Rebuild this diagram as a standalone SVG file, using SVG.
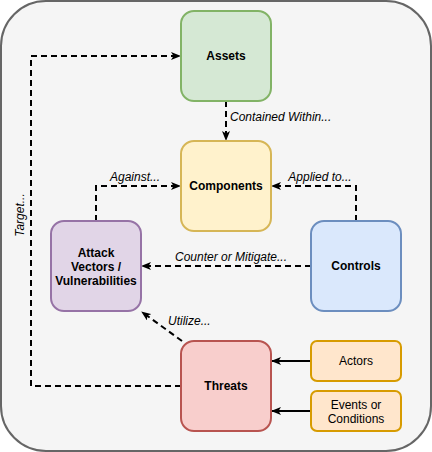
<svg xmlns="http://www.w3.org/2000/svg" width="432" height="452" viewBox="0 0 432 452">
<style>
.node{stroke-width:2}
.t{font-family:"Liberation Sans",Arial,sans-serif;font-size:12px;text-anchor:middle;fill:#000}
.b{font-weight:bold}
.lbl{font-family:"Liberation Sans",Arial,sans-serif;font-size:12px;font-style:italic;fill:#000}
.dash{fill:none;stroke:#000;stroke-width:2;stroke-dasharray:6 4}
.solid{fill:none;stroke:#000;stroke-width:2}
</style>
<defs>
<marker id="arr" viewBox="0 0 10 8" refX="9" refY="4" markerWidth="10" markerHeight="8" markerUnits="userSpaceOnUse" orient="auto">
<path d="M0,0 L10,4 L0,8 L2.5,4 Z" fill="#000"/>
</marker>
</defs>
<g id="container"><rect x="1" y="1" width="430" height="450" rx="45" fill="#f5f5f5" stroke="#666666" stroke-width="2"/></g>
<g id="connectors">
<path class="dash" d="M181,386 H31 V56 H180" marker-end="url(#arr)"/>
<path class="dash" d="M226,101 V140" marker-end="url(#arr)"/>
<path class="dash" d="M96,221 V186 H180" marker-end="url(#arr)"/>
<path class="dash" d="M356,221 V186 H272" marker-end="url(#arr)"/>
<path class="dash" d="M311,266 H142" marker-end="url(#arr)"/>
<path class="dash" d="M182,341 L142,312" marker-end="url(#arr)"/>
<path class="solid" d="M311,361 H272" marker-end="url(#arr)"/>
<path class="solid" d="M311,411 H272" marker-end="url(#arr)"/>
<text class="lbl" x="20" y="215" text-anchor="middle" transform="rotate(-90 20 215)" dy="4">Target...</text>
<text class="lbl" x="230" y="121">Contained Within...</text>
<text class="lbl" x="135" y="181" text-anchor="middle">Against...</text>
<text class="lbl" x="320" y="181" text-anchor="middle">Applied to...</text>
<text class="lbl" x="231" y="261" text-anchor="middle">Counter or Mitigate...</text>
<text class="lbl" x="168" y="325">Utilize...</text>
</g>
<g id="assets"><rect class="node" x="181" y="11" width="90" height="90" rx="13" fill="#d5e8d4" stroke="#82b366"/><text class="t b" x="226" y="60">Assets</text></g>
<g id="components"><rect class="node" x="181" y="141" width="90" height="90" rx="13" fill="#fff2cc" stroke="#d6b656"/><text class="t b" x="226" y="190">Components</text></g>
<g id="attack"><rect class="node" x="51" y="221" width="90" height="90" rx="13" fill="#e1d5e7" stroke="#9673a6"/><text class="t b" x="96" y="257">Attack</text><text class="t b" x="96" y="271">Vectors /</text><text class="t b" x="96" y="285">Vulnerabilities</text></g>
<g id="controls"><rect class="node" x="311" y="221" width="90" height="90" rx="13" fill="#dae8fc" stroke="#6c8ebf"/><text class="t b" x="356" y="270">Controls</text></g>
<g id="threats"><rect class="node" x="181" y="341" width="90" height="90" rx="13" fill="#f8cecc" stroke="#b85450"/><text class="t b" x="226" y="390">Threats</text></g>
<g id="actors"><rect class="node" x="311" y="341" width="90" height="40" rx="6" fill="#ffe6cc" stroke="#d79b00"/><text class="t" x="356" y="365">Actors</text></g>
<g id="events"><rect class="node" x="311" y="391" width="90" height="40" rx="6" fill="#ffe6cc" stroke="#d79b00"/><text class="t" x="356" y="409">Events or</text><text class="t" x="356" y="423">Conditions</text></g>
</svg>
